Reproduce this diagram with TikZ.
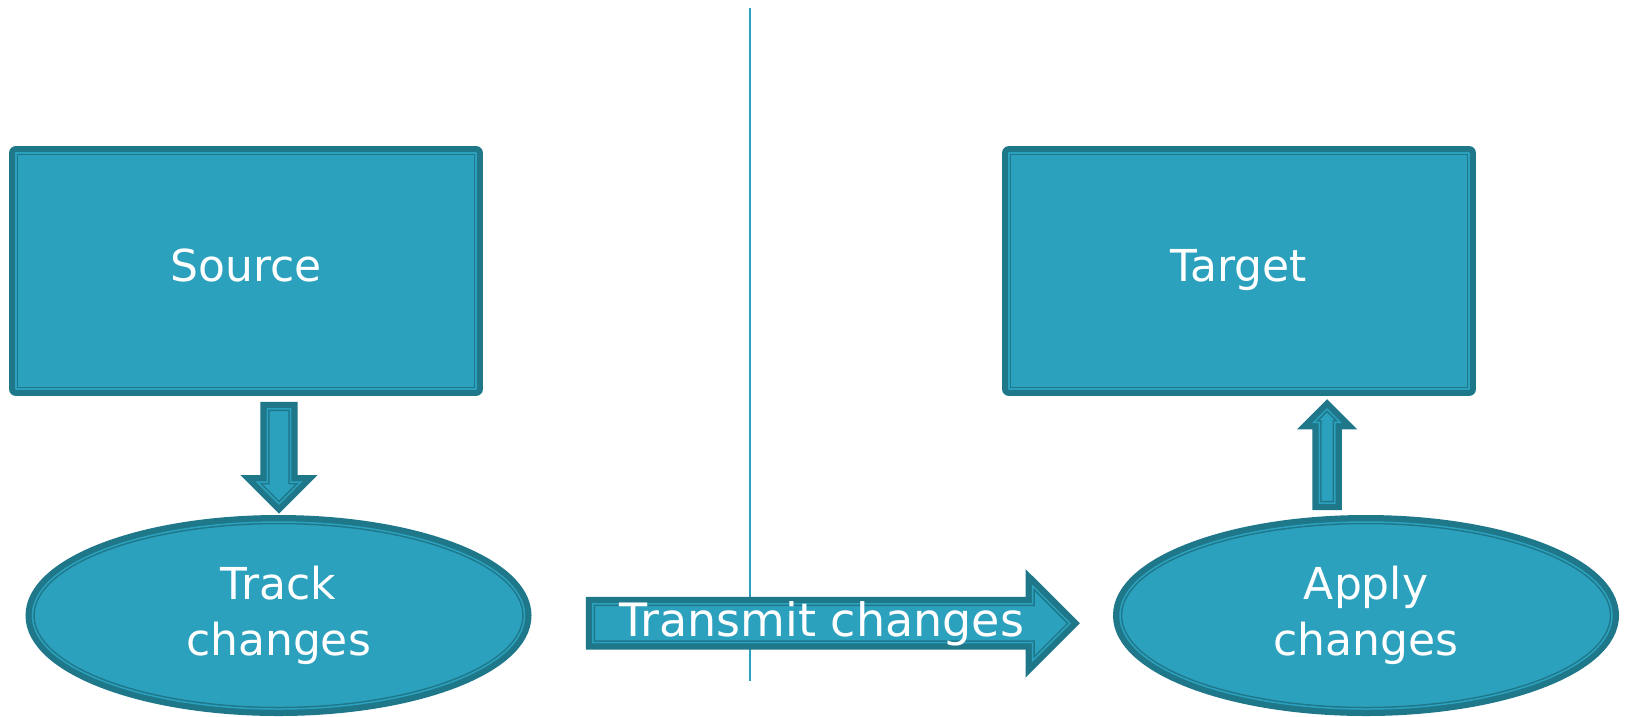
\documentclass[tikz,border=0pt]{standalone}
\usepackage{fontspec}
\setmainfont{DejaVu Sans}
\usetikzlibrary{positioning,shapes.geometric,shapes.arrows}

\definecolor{tealfill}{RGB}{44,161,190}
\definecolor{tealedge}{RGB}{31,119,138}

\begin{document}
\begin{tikzpicture}
			[x=1pt, y=-1pt,
			font=\fontsize{44}{56}\selectfont,
			tealband/.style={fill=tealfill, draw=tealedge, line width=1.5pt,
				double=tealfill, double distance=1.5pt, text=white, inner sep=0pt,
				preaction={draw=tealedge, line width=14pt}},
			box/.style={tealband, rectangle, line join=round,
				minimum width=460pt, minimum height=236pt,
				text height=32pt, text depth=10.4pt},
			oval/.style={tealband, ellipse, align=center,
				minimum width=492pt, minimum height=187pt},
			blockarrow/.style={tealband, single arrow, single arrow tip angle=90,
				minimum width=0pt, inner xsep=0pt},
			divider/.style={draw=tealfill, line width=2pt},
			]
			\useasboundingbox (0,0) rectangle (1629,716);
			
			% divider between the two sides
			\coordinate (top) at (750,8);
			\coordinate (bottom) at (750,681);
			\draw[divider] (top) -- (bottom);
			
			\node[box] (source) at (246,271) {Source};
			\node[box] (target) at (1239,271) {Target};
			\node[oval] (track) at (278.5,615.5) {Track\\changes};
			\node[oval] (apply) at (1366,615.5) {Apply\\changes};
			
			\node[blockarrow, rotate=-90, minimum height=95pt, inner ysep=10.85pt,
				single arrow head extend=10.15pt] (down) at (279,450.5) {};
			\node[blockarrow, rotate=90, minimum height=94pt, inner ysep=7pt,
				single arrow head extend=5.45pt] (up) at (1327,460) {};
			\node[blockarrow, minimum height=477pt, text height=31.35pt, text depth=5.95pt,
				single arrow head extend=17.85pt, font=\fontsize{46}{56}\selectfont]
				(send) at (821.7,623.3) {Transmit changes};
			
		\end{tikzpicture}
\end{document}
